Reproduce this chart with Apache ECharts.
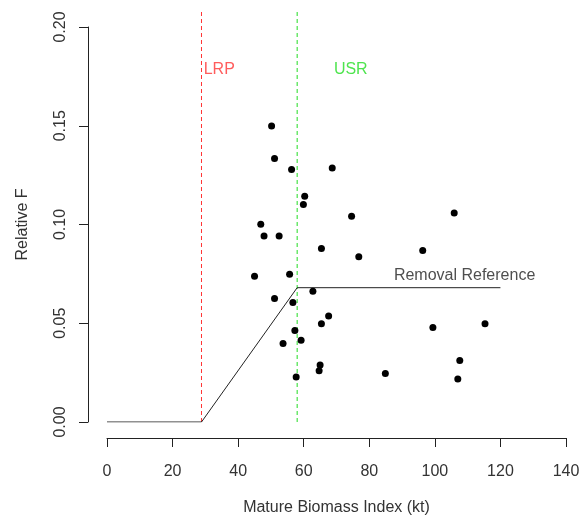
<!DOCTYPE html>
<html>
<head>
<meta charset="utf-8">
<script src="https://cdn.jsdelivr.net/npm/echarts@6/dist/echarts.min.js"></script>
<style>
  html, body { margin: 0; padding: 0; background: #fff; }
  #chart { width: 579px; height: 519px; }
</style>
</head>
<body>
<div id="chart"></div>
<script>
// mature biomass index (kt) and relative F
const biomass = [50.2, 51.1, 56.3, 68.7, 60.3, 59.9, 74.6, 46.9, 47.9, 52.5, 65.4,
  76.8, 45.0, 55.7, 51.1, 56.7, 62.8, 67.6, 65.4, 57.3, 59.2, 53.7, 65.0, 64.7,
  57.7, 105.9, 96.3, 99.4, 115.3, 107.6, 107.0, 84.9];
const relF = [0.1499, 0.1334, 0.1279, 0.1286, 0.1143, 0.1101, 0.1042, 0.1001, 0.0942,
  0.0942, 0.0878, 0.0837, 0.0738, 0.0748, 0.0625, 0.0605, 0.0662, 0.0537, 0.0498,
  0.0463, 0.0414, 0.0398, 0.0289, 0.0260, 0.0228, 0.1058, 0.0868, 0.0478, 0.0498,
  0.0312, 0.0218, 0.0245];

// harvest control rule
const lrp = 28.82;
const usr = 58;
const removalRef = 0.068;
const ruleX = [0, lrp, usr, 120];
const ruleY = [0, 0, removalRef, removalRef];
const refTop = 0.208;

const xTicks = [0, 20, 40, 60, 80, 100, 120, 140];
const yTicks = [0, 0.05, 0.10, 0.15, 0.20];

const font = 'Liberation Sans, Arial, sans-serif';
const lrpColor = '#ff3333';
const usrColor = '#22dd22';
const chart = echarts.init(document.getElementById('chart'));

const points = biomass.map((x, i) => [x, relF[i]]);
const rule = ruleX.map((x, i) => [x, ruleY[i]]);

function textMark(x, y, txt, color) {
  return {
    type: 'scatter',
    symbolSize: 0,
    silent: true,
    data: [[x, y]],
    label: {
      show: true, position: 'right', distance: 0,
      formatter: txt, color: color, fontSize: 16, fontFamily: font
    }
  };
}

function refLine(x, color) {
  return {
    type: 'line', data: [[x, 0], [x, refTop]], clip: false, symbol: 'none',
    silent: true, z: 3,
    itemStyle: { color: color },
    lineStyle: { color: color, width: 1, type: [4, 3], opacity: 1 }
  };
}

chart.setOption({
  backgroundColor: '#fff',
  animation: false,
  textStyle: { fontFamily: font },
  grid: { left: 107, right: 13, top: 27, bottom: 97, containLabel: false, outerBoundsMode: 'none' },
  xAxis: {
    type: 'value',
    min: xTicks[0], max: xTicks[xTicks.length - 1], interval: 20,
    offset: 16,
    splitLine: { show: false },
    axisLine: { show: true, onZero: false, lineStyle: { color: '#222', width: 1 } },
    axisTick: { show: true, length: 9, lineStyle: { color: '#222' } },
    axisLabel: { color: '#333', fontSize: 16, margin: 26 },
    name: 'Mature Biomass Index (kt)',
    nameLocation: 'middle', nameGap: 62,
    nameTextStyle: { color: '#333', fontSize: 16 }
  },
  yAxis: {
    type: 'value',
    min: yTicks[0], max: yTicks[yTicks.length - 1], interval: 0.05,
    offset: 19,
    splitLine: { show: false },
    axisLine: { show: true, onZero: false, lineStyle: { color: '#222', width: 1 } },
    axisTick: { show: true, length: 9, lineStyle: { color: '#222' } },
    axisLabel: { color: '#333', fontSize: 16, rotate: 90, margin: 19,
      formatter: v => v.toFixed(2) },
    name: 'Relative F',
    nameLocation: 'middle', nameGap: 57, nameRotate: 90,
    nameTextStyle: { color: '#333', fontSize: 16 }
  },
  series: [
    refLine(lrp, lrpColor),
    refLine(usr, usrColor),
    {
      type: 'line', data: rule, symbol: 'none',
      lineStyle: { color: '#222', width: 1 }, silent: true
    },
    {
      type: 'scatter', data: points, symbol: 'circle', symbolSize: 7,
      itemStyle: { color: '#000', opacity: 1 }, z: 4
    },
    textMark(29.5, 0.1786, 'LRP', lrpColor),
    textMark(69.2, 0.1786, 'USR', usrColor),
    textMark(87.5, 0.0743, 'Removal Reference', '#222')
  ]
});
</script>
</body>
</html>
